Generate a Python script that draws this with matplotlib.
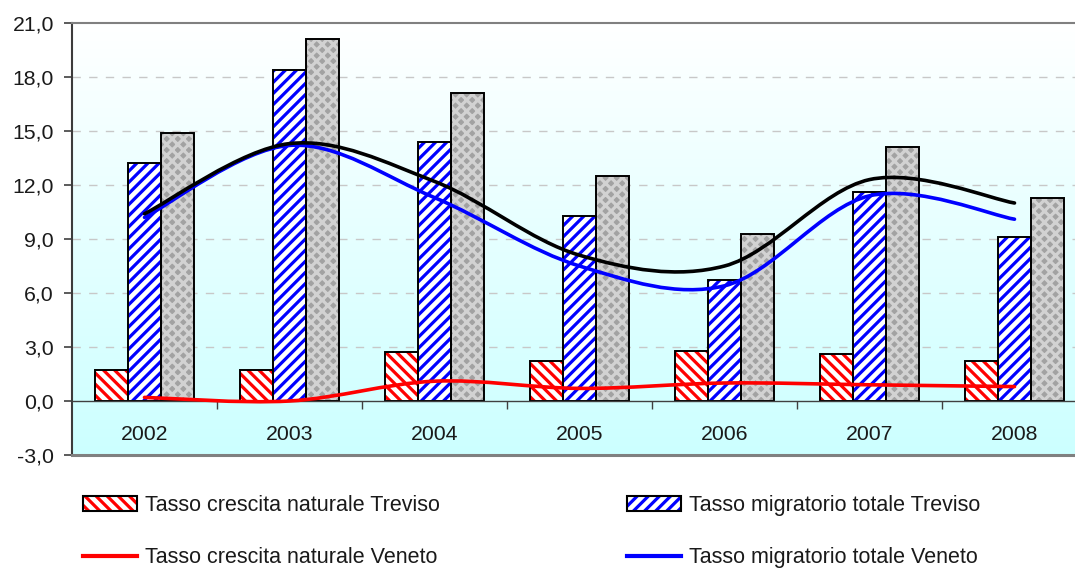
import numpy as np
import matplotlib
matplotlib.use('Agg')
import matplotlib.pyplot as plt
from matplotlib.path import Path
from matplotlib.patches import PathPatch, Patch
from matplotlib.lines import Line2D
from matplotlib.legend_handler import HandlerTuple
from matplotlib.ticker import FuncFormatter, FixedLocator, FixedFormatter

# ---------------- data ----------------
years = ['2002', '2003', '2004', '2005', '2006', '2007', '2008']
nat_treviso = [1.7, 1.7, 2.7, 2.2, 2.8, 2.6, 2.2]
mig_treviso = [13.2, 18.4, 14.4, 10.3, 6.7, 11.6, 9.1]
tot_treviso = [14.9, 20.1, 17.1, 12.5, 9.3, 14.1, 11.3]
nat_veneto = [0.2, 0.0, 1.1, 0.7, 1.0, 0.9, 0.8]
mig_veneto = [10.2, 14.2, 11.3, 7.5, 6.4, 11.4, 10.1]
tot_veneto = [10.4, 14.3, 12.2, 8.1, 7.5, 12.3, 11.0]
y_ticks = [-3, 0, 3, 6, 9, 12, 15, 18, 21]
labels = ['Tasso crescita naturale Treviso', 'Tasso migratorio totale Treviso',
          'Tasso crescita naturale Veneto', 'Tasso migratorio totale Veneto']

plt.rcParams['font.family'] = ['Liberation Sans', 'DejaVu Sans']
plt.rcParams['hatch.linewidth'] = 2.3

TXT = '#1a1a1a'
fig = plt.figure(figsize=(10.75, 5.69), dpi=100)
ax = fig.add_axes([72 / 1075, 1 - 455 / 569, (1087 - 72) / 1075, (455 - 23) / 569])

# background gradient (white -> light cyan)
grad = np.linspace(0, 1, 256)[:, None]
top = np.array([1.0, 1.0, 1.0])
bot = np.array([204, 255, 255]) / 255
img = top[None, None, :] * (1 - grad[:, :, None]) + bot[None, None, :] * grad[:, :, None]
ax.imshow(img, extent=[0, 1, 0, 1], transform=ax.transAxes, aspect='auto', zorder=0,
          interpolation='bilinear')

x = np.arange(len(years))
w = 0.228
series = [
    (-w, nat_treviso, 'white', 'red', '\\\\\\'),
    (0, mig_treviso, 'white', '#0000ff', '///'),
    (w, tot_treviso, '#a2a2a2', '#d2d2d2', 'xxx'),
]
for off, vals, fc, hc, hatch in series:
    ax.bar(x + off, vals, w, color=fc, edgecolor=hc, hatch=hatch, linewidth=0, zorder=2)
    ax.bar(x + off, vals, w, fill=False, edgecolor='black', linewidth=1.4, zorder=3)


def smooth_path(xs, ys):
    P = np.column_stack([xs, ys]).astype(float)
    n = len(P)
    verts = [P[0]]
    codes = [Path.MOVETO]
    for i in range(n - 1):
        p0 = P[i - 1] if i > 0 else P[i]
        p3 = P[i + 2] if i + 2 < n else P[i + 1]
        c1 = P[i] + (P[i + 1] - p0) / 6
        c2 = P[i + 1] - (p3 - P[i]) / 6
        verts += [c1, c2, P[i + 1]]
        codes += [Path.CURVE4] * 3
    return Path(verts, codes)


for vals, col in [(nat_veneto, 'red'), (mig_veneto, '#0000ff'), (tot_veneto, 'black')]:
    ax.add_patch(PathPatch(smooth_path(x, vals), fill=False, edgecolor=col, lw=2.6,
                           zorder=4, capstyle='round', joinstyle='round'))

# grid lines
for v in y_ticks[2:-1]:
    ax.axhline(v, color='#c8c8c8', lw=1, ls=(0, (6, 6)), zorder=1)

ax.set_xlim(-0.5, len(years) - 0.5)
ax.set_ylim(-3, 21)

# y axis
ax.set_yticks(y_ticks)
ax.yaxis.set_major_formatter(FuncFormatter(lambda v, p: f"{v:.1f}".replace('.', ',')))
ax.tick_params(axis='y', length=6, width=1.2, color='#404040', pad=7, labelsize=15.3,
               labelcolor=TXT)

# x axis at zero
ax.spines['bottom'].set_position(('data', 0))
ax.spines['bottom'].set_color('#404040')
ax.spines['bottom'].set_linewidth(1.0)
ax.spines['bottom'].set_zorder(3.5)
ax.xaxis.set_major_locator(FixedLocator(np.arange(len(years)) + 0.5))
ax.xaxis.set_major_formatter(FixedFormatter([''] * len(years)))
ax.xaxis.set_minor_locator(FixedLocator(x))
ax.xaxis.set_minor_formatter(FixedFormatter(years))
ax.tick_params(axis='x', which='major', length=6, width=1.0, color='#404040', direction='out')
ax.tick_params(axis='x', which='minor', length=0, pad=17, labelsize=15.3, labelcolor=TXT)

ax.spines['left'].set_color('#3c3c3c')
ax.spines['left'].set_linewidth(1.5)
ax.spines['top'].set_color('#808080')
ax.spines['top'].set_linewidth(1.5)
ax.spines['right'].set_visible(False)
ax.axhline(-3, color='#808080', lw=2.2, clip_on=False, zorder=5)

# legends
h_nat = (Patch(facecolor='white', edgecolor='red', hatch='\\\\\\', lw=0),
         Patch(fill=False, edgecolor='black', lw=1.5))
h_mig = (Patch(facecolor='white', edgecolor='#0000ff', hatch='///', lw=0),
         Patch(fill=False, edgecolor='black', lw=1.5))
h_natv = Line2D([], [], color='red', lw=3)
h_migv = Line2D([], [], color='#0000ff', lw=3)
common = dict(loc='upper left', frameon=False, handler_map={tuple: HandlerTuple(ndivide=1)},
              handlelength=2.5, handleheight=0.65, handletextpad=0.4, labelspacing=1.45,
              borderpad=0, borderaxespad=0, fontsize=15.5, labelcolor=TXT)
fig.legend([h_nat, h_natv], [labels[0], labels[2]], bbox_to_anchor=(83 / 1075, 1 - 495 / 569), **common)
fig.legend([h_mig, h_migv], [labels[1], labels[3]], bbox_to_anchor=(627 / 1075, 1 - 495 / 569), **common)

fig.savefig('out.png', dpi=100)
